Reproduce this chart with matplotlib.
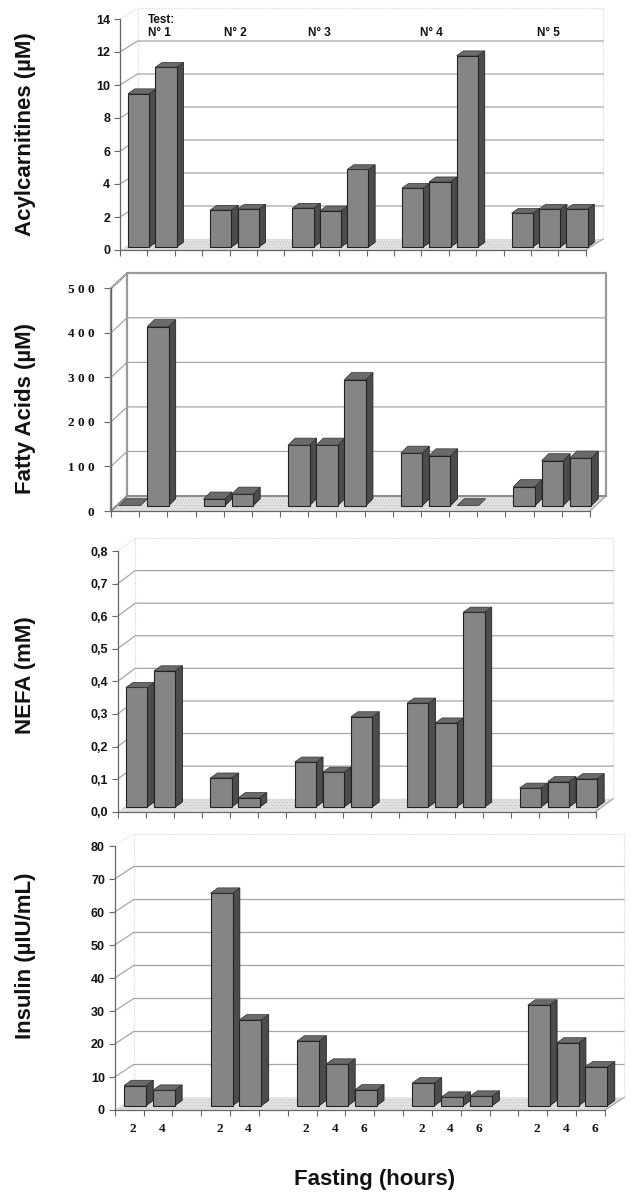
import matplotlib
matplotlib.use("Agg")
import matplotlib.pyplot as plt

W, H = 631, 1196

# slots along the x axis, the gaps between tests are empty slots
SLOTS = [0, 1, 3, 4, 6, 7, 8, 10, 11, 12, 14, 15, 16]
N_SLOTS = 17
HOURS = ["2", "4", "2", "4", "2", "4", "6", "2", "4", "6", "2", "4", "6"]

ACYLCARNITINES = [9.3, 10.9, 2.24, 2.3, 2.36, 2.2, 4.7, 3.57, 3.96, 11.6, 2.05, 2.3, 2.3]
FATTY_ACIDS = [0, 402, 15, 26, 136, 136, 283, 118, 112, 0, 43, 101, 107]
NEFA = [0.367, 0.418, 0.089, 0.029, 0.138, 0.107, 0.277, 0.319, 0.258, 0.598, 0.058, 0.078, 0.087]
INSULIN = [6.1, 4.7, 64.4, 26, 19.6, 12.6, 4.8, 6.9, 2.6, 2.9, 30.5, 19, 11.8]

TESTS = ["N° 1", "N° 2", "N° 3", "N° 4", "N° 5"]
TEST_X = [148, 224, 308, 420, 537]

TICKS_ACYL = [0, 2, 4, 6, 8, 10, 12, 14]
TICKS_FATTY = [0, 100, 200, 300, 400, 500]
LABELS_FATTY = ["0", "1 0 0", "2 0 0", "3 0 0", "4 0 0", "5 0 0"]
TICKS_NEFA = [0, 0.1, 0.2, 0.3, 0.4, 0.5, 0.6, 0.7, 0.8]
LABELS_NEFA = ["0,0", "0,1", "0,2", "0,3", "0,4", "0,5", "0,6", "0,7", "0,8"]
TICKS_INS = [0, 10, 20, 30, 40, 50, 60, 70, 80]

SANS = "Liberation Sans"
SERIF = "Liberation Serif"
FRONT, SIDE, TOP = "#858585", "#4c4c4c", "#6a6a6a"

plt.rcParams["hatch.linewidth"] = 0.5


def draw_panel(vals, ticks, ticklabels, ylabel, label_y, g, boxed=False, serif=False):
    ax = plt.gcf().add_axes([g["x0"] / W, 1 - g["y0"] / H, (g["x1"] - g["x0"]) / W, (g["y0"] - g["ytop"]) / H])
    ax.set_xlim(0, N_SLOTS)
    ax.set_ylim(0, ticks[-1])
    ax.patch.set_visible(False)
    for s in ["top", "right", "bottom", "left"]:
        ax.spines[s].set_visible(False)
    # pixels to data units, the chart is a fake 3D so everything is shifted by hand
    px = N_SLOTS / (g["x1"] - g["x0"])
    py = ticks[-1] / (g["y0"] - g["ytop"])
    ddx, ddy = g["dx"] * px, g["dy"] * py
    top = ticks[-1]

    # floor
    ax.fill([0, N_SLOTS, N_SLOTS + ddx, ddx], [0, 0, ddy, ddy], facecolor="#e2e2e2", edgecolor="#c4c4c4",
            hatch="......", lw=0, clip_on=False, zorder=1)
    # walls and grid
    wall = "#9a9a9a" if boxed else "#d8d8d8"
    wall_lw = 1.6 if boxed else 0.8
    wall_ls = "-" if boxed else (0, (1, 1))
    ax.plot([ddx, ddx, N_SLOTS + ddx, N_SLOTS + ddx], [ddy, top + ddy, top + ddy, ddy], color=wall, lw=wall_lw,
            ls=wall_ls, clip_on=False, zorder=2)
    if boxed:
        ax.plot([0, ddx, N_SLOTS + ddx], [0, ddy, ddy], color="#8a8a8a", lw=1.4, clip_on=False, zorder=2)
        ax.plot([0, 0, ddx], [0, top, top + ddy], color="#8a8a8a", lw=1.6, clip_on=False, zorder=2)
    for t in ticks[1:-1]:
        ax.plot([0, ddx, N_SLOTS + ddx], [t, t + ddy, t + ddy], color="#a6a6a6", lw=0.9, clip_on=False, zorder=2)
    ax.plot([0, ddx], [top, top + ddy], color="#d8d8d8", lw=0.8, ls=(0, (1, 1)), clip_on=False, zorder=2)
    ax.plot([N_SLOTS, N_SLOTS + ddx], [0, ddy], color="#a0a0a0", lw=0.8, clip_on=False, zorder=2)

    # bars
    off_x, base = g["off"] * px, g["base"] * py
    w = g["bw"] * px
    bx, by = g["bdx"] * px, g["bdy"] * py
    for s, v in zip(SLOTS, vals):
        x = s + off_x
        y = base + v
        if v > 0:
            ax.fill([x + w, x + w + bx, x + w + bx, x + w], [base, base + by, y + by, y], facecolor=SIDE,
                    edgecolor="#222222", lw=0.6, clip_on=False, zorder=3)
            ax.bar(x, v, width=w, bottom=base, align="edge", color=FRONT, edgecolor="#222222", lw=0.8,
                   clip_on=False, zorder=3)
        ax.fill([x, x + w, x + w + bx, x + bx], [y, y, y + by, y + by], facecolor=TOP,
                edgecolor="#333333", lw=0.5, clip_on=False, zorder=3)

    # axes lines and ticks
    ax.plot([0, 0], [0, top], color="#666666", lw=0.9, clip_on=False, zorder=4)
    ax.plot([0, N_SLOTS], [0, 0], color="#666666", lw=0.9, clip_on=False, zorder=4)
    ax.set_yticks(ticks)
    ax.set_yticklabels(ticklabels, fontfamily=SERIF if serif else SANS, fontweight="bold",
                       fontsize=9.5 if serif else 9, color="#111111")
    ax.tick_params(axis="y", length=5 if serif else 4, width=0.8, color="#666666", pad=7 if serif else 3)
    ax.set_xticks(range(N_SLOTS + 1))
    ax.set_xticklabels([])
    ax.tick_params(axis="x", length=4.5, width=0.8, color="#666666", direction="out")
    plt.figtext(26 / W, 1 - label_y / H, ylabel, rotation=90, ha="center", va="center", family=SANS,
                fontweight="bold", fontsize=16, color="#111111")
    return ax


fig = plt.figure(figsize=(W / 100, H / 100), dpi=100, facecolor="white")

# Acylcarnitines
g1 = dict(x0=120, x1=585.7, y0=250, ytop=19, dx=17.5, dy=11, off=8, base=3, bw=21.3, bdx=6.7, bdy=4.7)
ax1 = draw_panel(ACYLCARNITINES, TICKS_ACYL, [str(t) for t in TICKS_ACYL], "Acylcarnitines (µM)", 134, g1)
fig.text(148 / W, 1 - 20 / H, "Test:", family=SANS, fontweight="bold", fontsize=8.5, va="center", color="#111111")
for name, tx in zip(TESTS, TEST_X):
    fig.text(tx / W, 1 - 33.5 / H, name, family=SANS, fontweight="bold", fontsize=8.5, va="center", color="#111111")

# Fatty acids
g2 = dict(x0=111, x1=590, y0=511, ytop=288.3, dx=16, dy=15, off=8, base=5.3, bw=21.5, bdx=7, bdy=7)
ax2 = draw_panel(FATTY_ACIDS, TICKS_FATTY, LABELS_FATTY, "Fatty Acids (µM)", 408, g2, boxed=True, serif=True)

# NEFA
g3 = dict(x0=117.7, x1=595.7, y0=811.7, ytop=551, dx=17.5, dy=13, off=8.3, base=4.7, bw=21.3, bdx=7, bdy=5)
ax3 = draw_panel(NEFA, TICKS_NEFA, LABELS_NEFA, "NEFA (mM)", 675, g3)

# Insulin
g4 = dict(x0=114.7, x1=605, y0=1110, ytop=846, dx=19, dy=12.5, off=9.3, base=4.3, bw=22, bdx=7.3, bdy=5.3)
ax4 = draw_panel(INSULIN, TICKS_INS, [str(t) for t in TICKS_INS], "Insulin (µIU/mL)", 956, g4)
ax4.set_xticks([s + 0.64 for s in SLOTS], minor=True)
ax4.set_xticklabels(HOURS, minor=True, family=SERIF, fontweight="bold", fontsize=9.5, color="#111111")
ax4.tick_params(axis="x", which="minor", length=0, pad=9)

fig.text(374.5 / W, 1 - 1180 / H, "Fasting (hours)", ha="center", va="center", family=SANS, fontweight="bold",
         fontsize=16, color="#111111")

plt.savefig("out.png", dpi=100)
plt.close()
